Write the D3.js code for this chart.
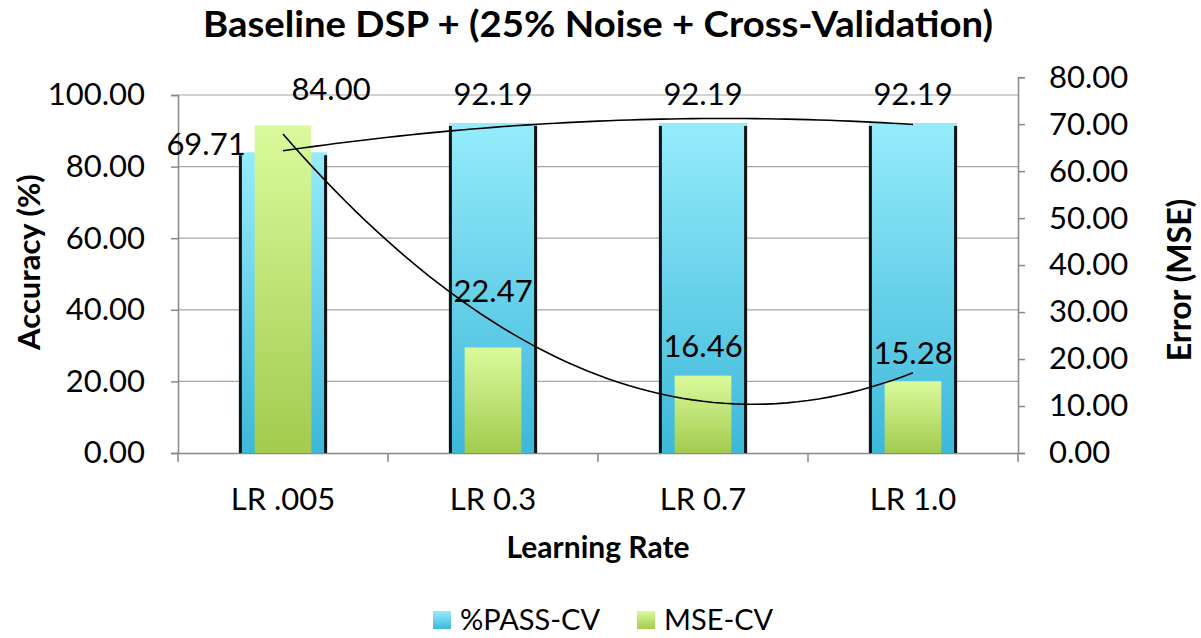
<!DOCTYPE html>
<html>
<head>
<meta charset="utf-8">
<script src="https://cdn.jsdelivr.net/npm/d3@7"></script>
<style>
  body { margin: 0; background: #fff; }
  text { font-family: Lato, "Open Sans", sans-serif; fill: #000; }
</style>
</head>
<body>
<div id="chart"></div>
<script>
// data
var categories = ['LR .005', 'LR 0.3', 'LR 0.7', 'LR 1.0'];
var passCV = [84.00, 92.19, 92.19, 92.19];
var mseCV = [69.71, 22.47, 16.46, 15.28];
var leftTicks = [0, 20, 40, 60, 80, 100];
var rightTicks = [0, 10, 20, 30, 40, 50, 60, 70, 80];

var W = 1201, H = 638;
var margin = {top: 95, left: 178, right: 1018, bottom: 453};

var svg = d3.select('#chart').append('svg')
    .attr('width', W).attr('height', H);

var defs = svg.append('defs');
function grad(id, top, bottom) {
  var g = defs.append('linearGradient').attr('id', id)
      .attr('x1', 0).attr('y1', 0).attr('x2', 0).attr('y2', 1);
  g.append('stop').attr('offset', '0%').attr('stop-color', top);
  g.append('stop').attr('offset', '100%').attr('stop-color', bottom);
}
grad('gBlue', '#95ecfb', '#3db8da');
grad('gGreen', '#dbfa9c', '#a2cb4e');

var x = d3.scaleBand().domain(categories).range([margin.left, margin.right]);
var yL = d3.scaleLinear().domain([0, 100]).range([margin.bottom, margin.top]);
var yR = d3.scaleLinear().domain([0, 80]).range([margin.bottom, margin.bottom - (margin.bottom - margin.top) * 80 / 76.2]);
var cx = function(d) { return x(d) + x.bandwidth() / 2; };

// gridlines
svg.append('g').selectAll('line').data(leftTicks.slice(1)).enter().append('line')
  .attr('x1', margin.left).attr('x2', margin.right)
  .attr('y1', d => yL(d)).attr('y2', d => yL(d))
  .attr('stroke', '#a6a6a6').attr('stroke-width', 1.2);

// left axis
var axL = svg.append('g').attr('transform', 'translate(' + margin.left + ',0)')
  .call(d3.axisLeft(yL).tickValues(leftTicks).tickFormat(d3.format('.2f')).tickSize(7).tickPadding(26));
// right axis
var axR = svg.append('g').attr('transform', 'translate(' + margin.right + ',0)')
  .call(d3.axisRight(yR).tickValues(rightTicks).tickFormat(d3.format('.2f')).tickSize(7).tickPadding(24));
// bottom axis
var axB = svg.append('g').attr('transform', 'translate(0,' + margin.bottom + ')')
  .call(d3.axisBottom(x).tickSize(0).tickPadding(35));
svg.append('g').selectAll('line').data(d3.range(categories.length + 1)).enter().append('line')
  .attr('x1', i => margin.left + i * x.step()).attr('x2', i => margin.left + i * x.step())
  .attr('y1', margin.bottom).attr('y2', margin.bottom + 9)
  .attr('stroke', '#888').attr('stroke-width', 1.5);

[axL, axR, axB].forEach(function(a) {
  a.selectAll('.domain').attr('stroke', '#888').attr('stroke-width', 1.5);
  a.selectAll('.tick line').attr('stroke', '#888').attr('stroke-width', 1.5);
  a.selectAll('text').style('font-size', '31px').attr('fill', '#000');
});

// blue bars (primary axis)
var bw = x.bandwidth() * 0.42;
var gb = svg.append('g');
gb.selectAll('rect').data(passCV).enter().append('rect')
  .attr('x', (d, i) => cx(categories[i]) - bw / 2)
  .attr('y', d => yL(d))
  .attr('width', bw)
  .attr('height', d => yL(0) - yL(d))
  .attr('fill', 'url(#gBlue)');
gb.selectAll('line.l').data(passCV).enter().append('line')
  .attr('x1', (d, i) => cx(categories[i]) - bw / 2 + 1.5)
  .attr('x2', (d, i) => cx(categories[i]) - bw / 2 + 1.5)
  .attr('y1', d => yL(d) + 3).attr('y2', yL(0))
  .attr('stroke', '#111').attr('stroke-width', 3);
gb.selectAll('line.r').data(passCV).enter().append('line')
  .attr('x1', (d, i) => cx(categories[i]) + bw / 2 - 1.5)
  .attr('x2', (d, i) => cx(categories[i]) + bw / 2 - 1.5)
  .attr('y1', d => yL(d) + 3).attr('y2', yL(0))
  .attr('stroke', '#111').attr('stroke-width', 3);

// green bars (secondary axis)
var gw = x.bandwidth() * 0.27;
svg.append('g').selectAll('rect').data(mseCV).enter().append('rect')
  .attr('x', (d, i) => cx(categories[i]) - gw / 2)
  .attr('y', d => yR(d))
  .attr('width', gw)
  .attr('height', d => yR(0) - yR(d))
  .attr('fill', 'url(#gGreen)');

// polynomial (order 2) trendlines, least squares on index 1..n
function polyFit(ys) {
  var S = [0, 0, 0, 0, 0], T = [0, 0, 0];
  ys.forEach(function(y, i) {
    var t = i + 1;
    for (var k = 0; k < 5; k++) S[k] += Math.pow(t, k);
    for (var k = 0; k < 3; k++) T[k] += y * Math.pow(t, k);
  });
  var A = [[S[0], S[1], S[2], T[0]], [S[1], S[2], S[3], T[1]], [S[2], S[3], S[4], T[2]]];
  for (var c = 0; c < 3; c++) {
    for (var r = c + 1; r < 3; r++) {
      var f = A[r][c] / A[c][c];
      for (var k = c; k < 4; k++) A[r][k] -= f * A[c][k];
    }
  }
  var b = [0, 0, 0];
  for (var r = 2; r >= 0; r--) {
    var s = A[r][3];
    for (var k = r + 1; k < 3; k++) s -= A[r][k] * b[k];
    b[r] = s / A[r][r];
  }
  return function(t) { return b[0] + b[1] * t + b[2] * t * t; };
}
var xt = d3.scaleLinear().domain([1, categories.length])
  .range([cx(categories[0]), cx(categories[categories.length - 1])]);
function trend(ys, yScale) {
  var f = polyFit(ys);
  var pts = d3.range(1, ys.length + 0.001, 0.05);
  svg.append('path').datum(pts)
    .attr('d', d3.line().x(t => xt(t)).y(t => yScale(f(t))))
    .attr('fill', 'none').attr('stroke', '#000').attr('stroke-width', 1.6);
}
trend(passCV, yL);
trend(mseCV, yR);

// data labels (some moved by hand in the original)
var passShift = [[48, -64], [0, -30], [0, -30], [0, -30]];
var mseShift = [[-77, 18], [0, -57], [0, -31], [0, -29]];
svg.append('g').selectAll('text').data(passCV).enter().append('text')
  .attr('x', (d, i) => cx(categories[i]) + passShift[i][0])
  .attr('y', (d, i) => yL(d) + passShift[i][1])
  .attr('text-anchor', 'middle').attr('dominant-baseline', 'central')
  .style('font-size', '31px').text(d => d.toFixed(2));
svg.append('g').selectAll('text').data(mseCV).enter().append('text')
  .attr('x', (d, i) => cx(categories[i]) + mseShift[i][0])
  .attr('y', (d, i) => yR(d) + mseShift[i][1])
  .attr('text-anchor', 'middle').attr('dominant-baseline', 'central')
  .style('font-size', '31px').text(d => d.toFixed(2));

// titles
svg.append('text').attr('x', 598).attr('y', 37).attr('text-anchor', 'middle')
  .attr('textLength', 790).attr('lengthAdjust', 'spacingAndGlyphs')
  .style('font-size', '36px').style('font-weight', 'bold')
  .text('Baseline DSP + (25% Noise + Cross-Validation)');
svg.append('text').attr('transform', 'translate(40,262) rotate(-90)')
  .attr('text-anchor', 'middle').style('font-size', '31px').style('font-weight', 'bold')
  .text('Accuracy (%)');
svg.append('text').attr('transform', 'translate(1191,280) rotate(-90)')
  .attr('text-anchor', 'middle').style('font-size', '32px').style('font-weight', 'bold')
  .text('Error (MSE)');
svg.append('text').attr('x', 598).attr('y', 558).attr('text-anchor', 'middle')
  .style('font-size', '30px').style('font-weight', 'bold')
  .text('Learning Rate');

// legend
var legend = [{name: '%PASS-CV', fill: 'url(#gBlue)', x: 433}, {name: 'MSE-CV', fill: 'url(#gGreen)', x: 637}];
var lg = svg.append('g').selectAll('g').data(legend).enter().append('g')
  .attr('transform', d => 'translate(' + d.x + ',611)');
lg.append('rect').attr('width', 18).attr('height', 18).attr('fill', d => d.fill);
lg.append('text').attr('x', 27).attr('y', 19).style('font-size', '29px').text(d => d.name);
</script>
</body>
</html>
